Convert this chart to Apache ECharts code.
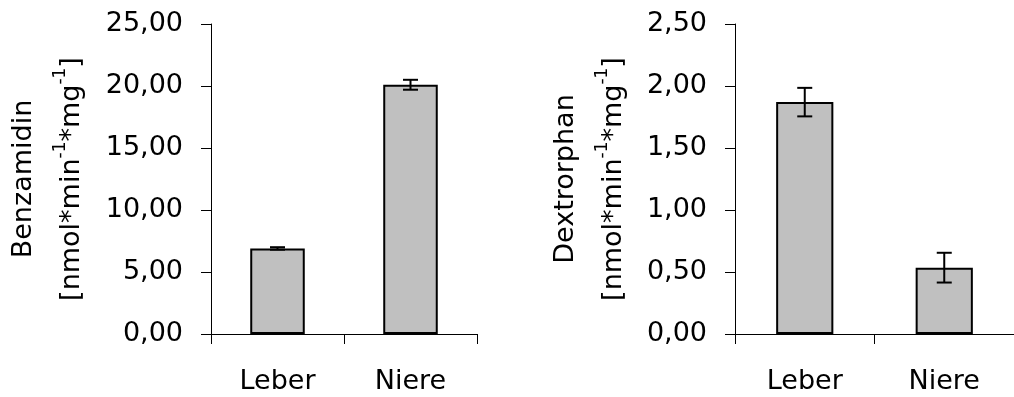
<!DOCTYPE html>
<html>
<head>
<meta charset="utf-8">
<script src="https://cdn.jsdelivr.net/npm/echarts@6/dist/echarts.min.js"></script>
<style>
html,body{margin:0;padding:0;background:#fff;}
#c{width:1014px;height:397px;}
</style>
</head>
<body>
<div id="c"></div>
<script>
const categories = ['Leber', 'Niere'];
const benzamidinValues = [6.9, 20.1];
const benzamidinErrors = [0.1, 0.4];
const dextrorphanValues = [1.87, 0.535];
const dextrorphanErrors = [0.115, 0.12];
const benzamidinTicks = { min: 0, max: 25, interval: 5 };
const dextrorphanTicks = { min: 0, max: 2.5, interval: 0.5 };

const FONT = 'DejaVu Sans';
const FS = 27;

function fmt(v) { return v.toFixed(2).replace('.', ','); }

function errorData(vals, errs) {
  return vals.map((v, i) => [i, v - errs[i], v + errs[i]]);
}

function errorSeries(idx, vals, errs) {
  return {
    type: 'custom',
    xAxisIndex: idx, yAxisIndex: idx,
    data: errorData(vals, errs),
    z: 10,
    renderItem: function (params, api) {
      const x = api.value(0);
      const lo = api.coord([x, api.value(1)]);
      const hi = api.coord([x, api.value(2)]);
      const hw = 7.5;
      const st = { stroke: '#000', lineWidth: 2 };
      return {
        type: 'group',
        children: [
          { type: 'line', shape: { x1: hi[0], y1: hi[1], x2: lo[0], y2: lo[1] }, style: st },
          { type: 'line', shape: { x1: hi[0] - hw, y1: hi[1], x2: hi[0] + hw, y2: hi[1] }, style: st },
          { type: 'line', shape: { x1: lo[0] - hw, y1: lo[1], x2: lo[0] + hw, y2: lo[1] }, style: st }
        ]
      };
    }
  };
}

function yAxisCfg(idx, ticks, title, gap) {
  return {
    gridIndex: idx,
    type: 'value',
    min: ticks.min, max: ticks.max, interval: ticks.interval,
    splitLine: { show: false },
    axisLine: { show: true, lineStyle: { color: '#000', width: 1 } },
    axisTick: { show: true, length: 10, lineStyle: { color: '#000', width: 1 } },
    axisLabel: { formatter: fmt, color: '#000', fontFamily: FONT, fontSize: FS, margin: 28 },
    name: '{a|' + title + '}\n{b|[nmol*min}{s|-1}{b|*mg}{s|-1}{b|]}',
    nameLocation: 'middle',
    nameRotate: 90,
    nameGap: gap,
    nameTextStyle: {
      color: '#000', fontFamily: FONT, fontSize: FS,
      rich: {
        a: { fontFamily: FONT, fontSize: FS, color: '#000', lineHeight: 48 },
        b: { fontFamily: FONT, fontSize: FS, color: '#000', lineHeight: 48 },
        s: { fontFamily: FONT, fontSize: 17, color: '#000', lineHeight: 48, padding: [0, 0, 22, 0] }
      }
    }
  };
}

function xAxisCfg(idx) {
  return {
    gridIndex: idx,
    type: 'category',
    data: categories,
    axisLine: { show: true, lineStyle: { color: '#000', width: 1 } },
    axisTick: { show: true, length: 10, inside: false, lineStyle: { color: '#000', width: 1 } },
    axisLabel: { color: '#000', fontFamily: FONT, fontSize: FS, margin: 34 }
  };
}

const barStyle = { color: '#c0c0c0', borderColor: '#000', borderWidth: 2 };

const chart = echarts.init(document.getElementById('c'), null, { renderer: 'canvas' });
chart.setOption({
  animation: false,
  backgroundColor: '#fff',
  grid: [
    { left: 211, top: 24, width: 266, height: 310 },
    { left: 735, top: 24, width: 292, height: 310 }
  ],
  xAxis: [xAxisCfg(0), xAxisCfg(1)],
  yAxis: [yAxisCfg(0, benzamidinTicks, 'Benzamidin', 115), yAxisCfg(1, dextrorphanTicks, 'Dextrorphan', 97)],
  series: [
    { type: 'bar', xAxisIndex: 0, yAxisIndex: 0, data: benzamidinValues, barWidth: '41%', itemStyle: barStyle },
    errorSeries(0, benzamidinValues, benzamidinErrors),
    { type: 'bar', xAxisIndex: 1, yAxisIndex: 1, data: dextrorphanValues, barWidth: '41%', itemStyle: barStyle },
    errorSeries(1, dextrorphanValues, dextrorphanErrors)
  ]
});
</script>
</body>
</html>
